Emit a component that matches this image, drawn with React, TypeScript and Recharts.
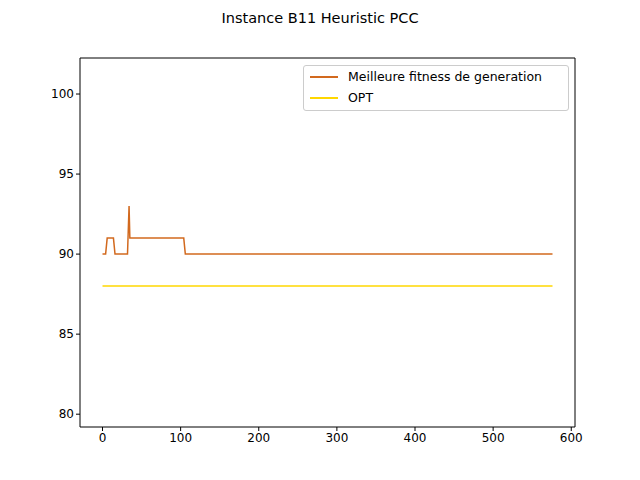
import { LineChart, Line, XAxis, YAxis, ReferenceLine } from 'recharts';

const genX = [0, 4, 6, 14, 16, 32, 34, 35, 104, 106, 576];
const bestFitness = [90, 90, 91, 91, 90, 90, 93, 91, 91, 90, 90];
const optX = [0, 576];
const optValue = 88;
const xTicks = [0, 100, 200, 300, 400, 500, 600];
const yTicks = [80, 85, 90, 95, 100];

const fitData = genX.map((x, i) => ({ x, best: bestFitness[i] }));
const optData = optX.map((x) => ({ x, opt: optValue }));

const tick = { fontSize: 12, fill: '#000' };

export default function App() {
    return (
        <div style={{ position: 'relative', width: 640, height: 480, fontFamily: 'DejaVu Sans', background: '#fff', margin: -8 }}>
            <div style={{ position: 'absolute', top: 10, width: 640, textAlign: 'center', fontSize: 14.5 }}>
                Instance B11 Heuristic PCC
            </div>
            <LineChart width={640} height={480} margin={{ top: 58, right: 65, bottom: 23, left: 0 }}>
                <XAxis
                    type="number"
                    dataKey="x"
                    domain={[-28.8, 604.8]}
                    ticks={xTicks}
                    allowDataOverflow
                    tick={tick}
                    stroke="#000"
                    tickSize={4}
                    height={30}
                />
                <YAxis
                    type="number"
                    domain={[79.2, 102.25]}
                    ticks={yTicks}
                    allowDataOverflow
                    tick={tick}
                    stroke="#000"
                    tickSize={4}
                    width={80}
                />
                <ReferenceLine x={604.8} stroke="#000" />
                <ReferenceLine y={102.25} stroke="#000" />
                <Line data={fitData} dataKey="best" stroke="#d2691e" strokeWidth={1.5} dot={false} isAnimationActive={false} />
                <Line data={optData} dataKey="opt" stroke="#ffd700" strokeWidth={1.5} dot={false} isAnimationActive={false} />
            </LineChart>
            <div style={{ position: 'absolute', left: 303, top: 65, width: 264, height: 44, border: '1px solid #ccc', borderRadius: 3, background: '#fff', fontSize: 12.5 }}>
                <div style={{ position: 'absolute', left: 6, top: 3, display: 'flex', alignItems: 'center' }}>
                    <span style={{ display: 'inline-block', width: 28, height: 2, background: '#d2691e', marginRight: 10 }} />
                    Meilleure fitness de generation
                </div>
                <div style={{ position: 'absolute', left: 6, top: 24, display: 'flex', alignItems: 'center' }}>
                    <span style={{ display: 'inline-block', width: 28, height: 2, background: '#ffd700', marginRight: 10 }} />
                    OPT
                </div>
            </div>
        </div>
    );
}
